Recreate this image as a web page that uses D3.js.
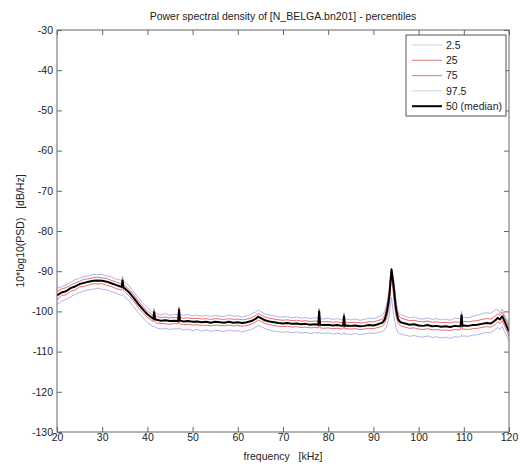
<!DOCTYPE html>
<html>
<head>
<meta charset="utf-8">
<script src="https://cdn.jsdelivr.net/npm/d3@7"></script>
<style>
  body { margin: 0; background: #fff; }
  text { font-family: "Liberation Sans", Arial, sans-serif; fill: #222; }
</style>
</head>
<body>
<div id="chart"></div>
<script>
// frequency (kHz), denser around the narrow spikes
const freq = [20,21,22,23,24,25,26,27,28,29,30,31,32,33,34, 34.3,34.5,34.7, 35,36,37,38,39,40,41, 41.3,41.5,41.7,
  42,43,44,45,46, 46.8,47,47.2, 48,49,50,51,52,53,54,55,56,57,58,59,60,61,62,63,64, 64.5,
  65,66,67,68,69,70,71,72,73,74,75,76,77, 77.8,78,78.2, 79,80,81,82,83, 83.3,83.5,83.7,
  84,85,86,87,88,89,90,91,92, 92.5,93,93.5,94,94.5,95,95.5,
  96,97,98,99,100,101,102,103,104,105,106,107,108,109, 109.3,109.5,109.7,
  110,111,112,113,114,115,116,117, 117.5,118,118.5,119,120];

const p50 = [-96.0,-95.3,-95.0,-94.2,-93.8,-93.2,-92.9,-92.6,-92.4,-92.3,-92.4,-92.6,-93.0,-93.4,-93.8,
  -93.9,-92.3,-94.0,
  -94.3,-95.3,-96.7,-98.2,-99.5,-100.7,-101.6,
  -101.8,-100.2,-101.9,
  -102.1,-102.3,-102.2,-102.4,-102.3,
  -102.4,-99.6,-102.3,
  -102.5,-102.4,-102.6,-102.5,-102.7,-102.6,-102.8,-102.6,-102.7,-102.8,-102.6,-102.8,-102.7,-102.9,-102.7,-102.4,-101.8,
  -101.3,
  -101.6,-102.2,-102.5,-102.7,-102.9,-103.0,-102.9,-103.1,-103.0,-103.2,-103.1,-103.3,-103.2,
  -103.3,-100.0,-103.3,
  -103.4,-103.3,-103.5,-103.4,-103.6,
  -103.5,-101.2,-103.6,
  -103.5,-103.6,-103.5,-103.7,-103.6,-103.4,-103.5,-103.2,-102.8,
  -102.0,-100.0,-96.5,-89.6,-94.0,-99.5,-102.0,
  -102.7,-103.0,-103.3,-103.2,-103.5,-103.6,-103.4,-103.7,-103.6,-103.8,-103.7,-103.9,-103.6,-103.7,
  -103.6,-101.0,-103.6,
  -103.5,-103.6,-103.4,-103.3,-103.1,-102.9,-103.0,-102.2,
  -101.6,-102.0,-101.2,-102.4,-105.0];

const p25 = [-97.1,-96.0,-95.9,-95.0,-94.7,-93.9,-93.8,-93.4,-93.1,-93.2,-93.1,-93.5,-93.8,-94.3,-94.6,
  -94.7,-93.6,-94.8,
  -95.1,-96.2,-97.5,-99.1,-100.3,-101.5,-102.3,
  -102.5,-101.6,-102.6,
  -102.9,-103.0,-103.1,-103.2,-103.0,
  -103.1,-101.8,-103.1,
  -103.3,-103.2,-103.4,-103.3,-103.5,-103.4,-103.6,-103.4,-103.5,-103.6,-103.4,-103.6,-103.5,-103.7,-103.5,-103.2,-102.6,
  -102.1,
  -102.4,-103.0,-103.3,-103.5,-103.7,-103.8,-103.7,-103.9,-103.8,-104.0,-103.9,-104.1,-104.0,
  -104.1,-102.0,-104.1,
  -104.2,-104.1,-104.3,-104.2,-104.4,
  -104.3,-102.8,-104.4,
  -104.3,-104.4,-104.3,-104.5,-104.4,-104.2,-104.3,-104.0,-103.7,
  -103.0,-101.5,-98.5,-90.8,-96.5,-101.2,-103.0,
  -103.6,-103.9,-104.2,-104.1,-104.4,-104.5,-104.3,-104.6,-104.5,-104.7,-104.6,-104.8,-104.5,-104.6,
  -104.5,-102.5,-104.5,
  -104.4,-104.5,-104.3,-104.2,-104.0,-103.8,-103.9,-103.2,
  -102.6,-103.0,-102.3,-103.5,-106.2];

const p75 = [-95.0,-94.4,-94.1,-93.5,-92.9,-92.5,-92.0,-91.9,-91.6,-91.5,-91.7,-91.8,-92.3,-92.6,-93.1,
  -93.2,-91.8,-93.3,
  -93.6,-94.6,-95.9,-97.4,-98.8,-99.9,-100.8,
  -101.0,-99.7,-101.1,
  -101.3,-101.5,-101.4,-101.6,-101.5,
  -101.6,-99.0,-101.5,
  -101.7,-101.6,-101.8,-101.7,-101.9,-101.8,-102.0,-101.8,-101.9,-102.0,-101.8,-102.0,-101.9,-102.1,-101.9,-101.6,-101.0,
  -100.5,
  -100.8,-101.4,-101.7,-101.9,-102.1,-102.2,-102.1,-102.3,-102.2,-102.4,-102.3,-102.5,-102.4,
  -102.5,-99.5,-102.5,
  -102.6,-102.5,-102.7,-102.6,-102.8,
  -102.7,-100.6,-102.8,
  -102.7,-102.8,-102.7,-102.9,-102.8,-102.6,-102.6,-102.3,-101.9,
  -101.0,-98.8,-95.0,-89.3,-92.5,-98.2,-100.8,
  -101.6,-102.0,-102.3,-102.2,-102.5,-102.6,-102.4,-102.7,-102.6,-102.8,-102.7,-102.9,-102.6,-102.7,
  -102.6,-100.4,-102.6,
  -102.5,-102.6,-102.4,-102.3,-102.0,-101.8,-101.9,-101.1,
  -100.6,-101.0,-100.2,-101.4,-103.8];

const p2_5 = [-98.3,-97.5,-97.0,-96.4,-95.8,-95.3,-94.9,-94.6,-94.5,-94.2,-94.5,-94.6,-95.1,-95.4,-95.9,
  -96.0,-95.8,-96.1,
  -96.4,-97.4,-98.9,-100.3,-101.6,-102.8,-103.6,
  -103.8,-103.6,-103.9,
  -104.1,-104.4,-104.2,-104.5,-104.3,
  -104.4,-104.1,-104.3,
  -104.6,-104.4,-104.8,-104.5,-104.9,-104.6,-105.0,-104.7,-104.8,-105.0,-104.6,-104.9,-104.8,-105.1,-104.8,-104.5,-103.9,
  -103.4,
  -103.7,-104.3,-104.6,-104.9,-105.0,-105.2,-105.0,-105.3,-105.1,-105.4,-105.2,-105.5,-105.3,
  -105.4,-105.1,-105.4,
  -105.5,-105.3,-105.6,-105.4,-105.7,
  -105.6,-105.2,-105.7,
  -105.6,-105.7,-105.5,-105.8,-105.6,-105.4,-105.5,-105.3,-105.0,
  -104.6,-103.5,-101.0,-96.5,-101.0,-104.0,-105.4,
  -105.6,-105.9,-106.2,-106.0,-106.3,-106.4,-106.1,-106.5,-106.3,-106.6,-106.4,-106.7,-106.3,-106.4,
  -106.3,-105.8,-106.3,
  -106.1,-106.2,-105.9,-105.8,-105.5,-105.2,-105.3,-104.4,
  -104.0,-104.5,-103.7,-105.0,-107.3];

const p97_5 = [-94.2,-93.9,-93.4,-92.8,-92.1,-91.8,-91.3,-91.2,-90.8,-90.9,-90.8,-91.2,-91.4,-91.9,-92.2,
  -92.4,-91.2,-92.5,
  -92.8,-93.7,-95.2,-96.6,-98.0,-99.1,-100.0,
  -100.3,-99.2,-100.4,
  -100.6,-100.9,-100.5,-101.0,-100.7,
  -100.9,-98.8,-100.8,
  -101.0,-100.8,-101.1,-100.9,-101.2,-101.0,-101.3,-101.0,-101.2,-101.3,-100.9,-101.2,-101.1,-101.4,-101.1,-100.7,-100.1,
  -99.6,
  -100.0,-100.6,-100.9,-101.1,-101.4,-101.4,-101.3,-101.6,-101.4,-101.7,-101.5,-101.8,-101.6,
  -101.7,-99.2,-101.8,
  -101.9,-101.7,-102.0,-101.8,-102.1,
  -102.0,-100.3,-102.1,
  -101.9,-102.1,-101.9,-102.2,-102.0,-101.7,-101.8,-101.4,-100.9,
  -100.0,-97.8,-94.5,-89.2,-92.0,-97.5,-100.3,
  -100.8,-101.2,-101.6,-101.4,-101.8,-101.9,-101.6,-102.0,-101.8,-102.1,-101.9,-102.2,-101.7,-101.8,
  -101.7,-100.0,-101.7,
  -101.5,-101.6,-101.2,-101.0,-100.6,-100.3,-100.5,-99.6,
  -99.6,-100.4,-99.4,-100.8,-103.0];

const xTicks = d3.range(20, 121, 10);
const yTicks = d3.range(-130, -29, 10);

const series = [
  { label: "2.5", values: p2_5, color: "#b3b3ee", width: 1 },
  { label: "97.5", values: p97_5, color: "#b3b3ee", width: 1 },
  { label: "25", values: p25, color: "#e86c6c", width: 1 },
  { label: "75", values: p75, color: "#e86c6c", width: 1 },
  { label: "50 (median)", values: p50, color: "#000", width: 2 }
];
const legendOrder = [
  { label: "2.5", color: "#d6d6e6", width: 1.2 },
  { label: "25", color: "#dc8a8a", width: 1.2 },
  { label: "75", color: "#dc8a8a", width: 1.2 },
  { label: "97.5", color: "#d6d6e6", width: 1.2 },
  { label: "50 (median)", color: "#000", width: 2 }
];

const width = 521, height = 464;
const margin = { top: 30, right: 12, bottom: 32, left: 57 };
const innerW = width - margin.left - margin.right;
const innerH = height - margin.top - margin.bottom;
const fontSize = "10.5px";

const svg = d3.select("#chart").append("svg")
  .attr("width", width)
  .attr("height", height);

const g = svg.append("g").attr("transform", `translate(${margin.left},${margin.top})`);

const x = d3.scaleLinear().domain([20, 120]).range([0, innerW]);
const y = d3.scaleLinear().domain([-130, -30]).range([innerH, 0]);

g.append("clipPath").attr("id", "clip")
  .append("rect").attr("width", innerW).attr("height", innerH);

const line = d3.line()
  .x((d, i) => x(freq[i]))
  .y((d) => y(d));

g.append("g").attr("clip-path", "url(#clip)")
  .selectAll("path")
  .data(series)
  .enter()
  .append("path")
  .attr("d", (d) => line(d.values))
  .attr("fill", "none")
  .attr("stroke", (d) => d.color)
  .attr("stroke-width", (d) => d.width)
  .attr("stroke-linejoin", "round");

// axes, MATLAB style: ticks inward on all sides, plain hyphen minus
const axisColor = "#666";
const plain = (d) => String(d);
function styleAxis(sel) {
  sel.select(".domain").remove();
  sel.selectAll(".tick line").attr("stroke", axisColor);
  sel.selectAll(".tick text").style("font-size", fontSize).attr("fill", "#222");
}

g.append("g").attr("transform", `translate(0,${innerH})`)
  .call(d3.axisBottom(x).tickValues(xTicks).tickSize(-5).tickPadding(2).tickFormat(plain))
  .call(styleAxis);
g.append("g")
  .call(d3.axisTop(x).tickValues(xTicks).tickSize(-5).tickFormat(""))
  .call(styleAxis);
g.append("g")
  .call(d3.axisLeft(y).tickValues(yTicks).tickSize(-5).tickPadding(4).tickFormat(plain))
  .call(styleAxis);
g.append("g").attr("transform", `translate(${innerW},0)`)
  .call(d3.axisRight(y).tickValues(yTicks).tickSize(-5).tickFormat(""))
  .call(styleAxis);

g.append("rect")
  .attr("width", innerW).attr("height", innerH)
  .attr("fill", "none").attr("stroke", axisColor).attr("stroke-width", 1);

// labels
svg.append("text")
  .attr("x", margin.left + innerW / 2).attr("y", 20)
  .attr("text-anchor", "middle").style("font-size", fontSize)
  .text("Power spectral density of [N_BELGA.bn201] - percentiles");

svg.append("text")
  .attr("x", margin.left + innerW / 2).attr("y", 460)
  .attr("text-anchor", "middle").style("font-size", fontSize)
  .attr("xml:space", "preserve")
  .text("frequency   [kHz]");

svg.append("text")
  .attr("transform", `translate(24,${margin.top + innerH / 2}) rotate(-90)`)
  .attr("text-anchor", "middle").style("font-size", fontSize)
  .attr("xml:space", "preserve")
  .text("10*log10(PSD)   [dB/Hz]");

// legend
const legend = svg.append("g").attr("transform", "translate(406,35)");
legend.append("rect")
  .attr("width", 100).attr("height", 81)
  .attr("fill", "#fff").attr("stroke", "#555").attr("stroke-width", 1);
const items = legend.selectAll("g.item")
  .data(legendOrder)
  .enter()
  .append("g")
  .attr("class", "item")
  .attr("transform", (d, i) => `translate(0,${10 + i * 15.3})`);
items.append("line")
  .attr("x1", 6).attr("x2", 36)
  .attr("stroke", (d) => d.color)
  .attr("stroke-width", (d) => d.width);
items.append("text")
  .attr("x", 40).attr("dy", "0.35em")
  .style("font-size", fontSize)
  .text((d) => d.label);
</script>
</body>
</html>
